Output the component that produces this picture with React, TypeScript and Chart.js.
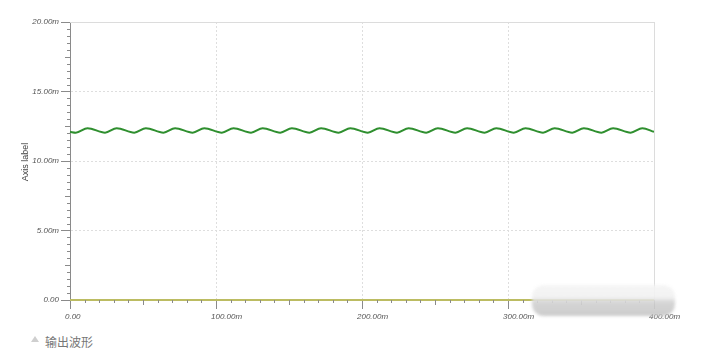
import React, { useEffect, useRef } from "react";
import { Chart, registerables } from "chart.js";

Chart.register(...registerables);

// ---- data ----
const xTickValues = [0, 100, 200, 300, 400];
const xTickLabels = ["0.00", "100.00m", "200.00m", "300.00m", "400.00m"];
const yTickValues = [0, 5, 10, 15, 20];
const yTickLabels = ["0.00", "5.00m", "10.00m", "15.00m", "20.00m"];

const waveX = [
  0, 4, 12, 24, 32, 44, 52, 64, 72, 84, 92, 104, 112, 124, 132, 144, 152, 164, 172, 184,
  192, 204, 212, 224, 232, 244, 252, 264, 272, 284, 292, 304, 312, 324, 332, 344, 352,
  364, 372, 384, 392, 400,
];
const waveY = [
  12.1, 12.04, 12.36, 12.04, 12.36, 12.04, 12.36, 12.04, 12.36, 12.04, 12.36, 12.04,
  12.36, 12.04, 12.36, 12.04, 12.36, 12.04, 12.36, 12.04, 12.36, 12.04, 12.36, 12.04,
  12.36, 12.04, 12.36, 12.04, 12.36, 12.04, 12.36, 12.04, 12.36, 12.04, 12.36, 12.04,
  12.36, 12.04, 12.36, 12.04, 12.36, 12.1,
];
const baseX = [0, 400];
const baseY = [0, 0];

const axisTitle = "Axis label";
const caption = "输出波形";

const FONT = '"Liberation Sans", Arial, sans-serif';

const decorPlugin = {
  id: "decor",
  afterDraw(chart: any) {
    const { ctx, chartArea, scales } = chart;
    const x = scales.x;
    const y = scales.y;
    ctx.save();
    // light top / right frame
    ctx.strokeStyle = "#dcdcdc";
    ctx.lineWidth = 1;
    ctx.beginPath();
    ctx.moveTo(chartArea.left, Math.round(chartArea.top) + 0.5);
    ctx.lineTo(chartArea.right, Math.round(chartArea.top) + 0.5);
    ctx.moveTo(Math.round(chartArea.right) + 0.5, chartArea.top);
    ctx.lineTo(Math.round(chartArea.right) + 0.5, chartArea.bottom);
    ctx.stroke();

    // minor ticks
    ctx.strokeStyle = "#8a8a8a";
    ctx.beginPath();
    for (let i = 0; i <= 40; i++) {
      if (i % 10 === 0) continue;
      const px = Math.round(x.getPixelForValue(i * 10)) + 0.5;
      const len = i % 5 === 0 ? 5 : 3;
      ctx.moveTo(px, chartArea.bottom);
      ctx.lineTo(px, chartArea.bottom + len);
    }
    for (let i = 0; i <= 40; i++) {
      if (i % 10 === 0) continue;
      const py = Math.round(y.getPixelForValue(i * 0.5)) + 0.5;
      const len = i % 5 === 0 ? 5 : 3;
      ctx.moveTo(chartArea.left, py);
      ctx.lineTo(chartArea.left - len, py);
    }
    ctx.stroke();

    // axis title
    ctx.translate(26, 162);
    ctx.rotate(-Math.PI / 2);
    ctx.fillStyle = "#444";
    ctx.font = `9px ${FONT}`;
    ctx.textAlign = "center";
    ctx.textBaseline = "middle";
    ctx.fillText(axisTitle, 0, 0);
    ctx.restore();
  },
};

export default function App() {
  const ref = useRef<HTMLCanvasElement | null>(null);

  useEffect(() => {
    if (!ref.current) return;
    const chart = new Chart(ref.current, {
      type: "line",
      data: {
        datasets: [
          {
            label: "wave",
            data: waveX.map((v, i) => ({ x: v, y: waveY[i] })),
            borderColor: "#2f8f2f",
            borderWidth: 2,
            pointRadius: 0,
            cubicInterpolationMode: "monotone",
            fill: false,
            clip: false as any,
          },
          {
            label: "base",
            data: baseX.map((v, i) => ({ x: v, y: baseY[i] })),
            borderColor: "#bcbc62",
            borderWidth: 2,
            pointRadius: 0,
            fill: false,
            clip: false as any,
          },
        ],
      },
      options: {
        animation: false,
        responsive: false,
        layout: { padding: { left: 0, top: 22, right: 71, bottom: 0 } },
        plugins: { legend: { display: false }, tooltip: { enabled: false } },
        scales: {
          x: {
            type: "linear",
            min: 0,
            max: 400,
            afterFit: (s: any) => {
              s.height = 25;
            },
            afterBuildTicks: (s: any) => {
              s.ticks = xTickValues.map((v) => ({ value: v }));
            },
            ticks: {
              align: "start",
              labelOffset: -5,
              padding: 3,
              maxRotation: 0,
              autoSkip: false,
              color: "#555",
              font: { family: FONT, size: 8, style: "italic" },
              callback: (v: any) => xTickLabels[xTickValues.indexOf(Number(v))] ?? "",
            },
            grid: {
              color: "#dedede",
              tickColor: "#8a8a8a",
              tickLength: 9,
              drawTicks: true,
            },
            border: { color: "#8a8a8a", width: 1, dash: [2, 2] },
          },
          y: {
            type: "linear",
            min: 0,
            max: 20,
            afterFit: (s: any) => {
              s.width = 70;
            },
            afterBuildTicks: (s: any) => {
              s.ticks = yTickValues.map((v) => ({ value: v }));
            },
            ticks: {
              padding: 2,
              autoSkip: false,
              color: "#555",
              font: { family: FONT, size: 8, style: "italic" },
              callback: (v: any) => yTickLabels[yTickValues.indexOf(Number(v))] ?? "",
            },
            grid: {
              color: "#dedede",
              tickColor: "#8a8a8a",
              tickLength: 9,
              drawTicks: true,
            },
            border: { color: "#8a8a8a", width: 1, dash: [2, 2] },
          },
        },
      },
      plugins: [decorPlugin],
    } as any);
    return () => chart.destroy();
  }, []);

  return (
    <div
      style={{
        position: "fixed",
        left: 0,
        top: 0,
        width: 725,
        height: 355,
        background: "#fff",
        overflow: "hidden",
      }}
    >
      <canvas
        ref={ref}
        width={725}
        height={325}
        style={{ display: "block", width: 725, height: 325 }}
      />
      <div
        style={{
          position: "absolute",
          left: 532,
          top: 285,
          width: 143,
          height: 31,
          borderRadius: 12,
          background:
            "linear-gradient(#f4f4f4 0%, #f1f1f1 40%, #d2d2d2 55%, #c6c6c6 100%)",
          filter: "blur(1.5px)",
          opacity: 0.9,
        }}
      />
      <div
        style={{
          position: "absolute",
          left: 31,
          top: 336,
          width: 0,
          height: 0,
          borderLeft: "4px solid transparent",
          borderRight: "4px solid transparent",
          borderBottom: "6px solid #cfcfcf",
        }}
      />
      <div
        style={{
          position: "absolute",
          left: 45,
          top: 334,
          fontFamily: '"Noto Sans CJK SC", sans-serif',
          fontSize: 12,
          lineHeight: "16px",
          color: "#777",
          whiteSpace: "nowrap",
        }}
      >
        {caption}
      </div>
    </div>
  );
}
